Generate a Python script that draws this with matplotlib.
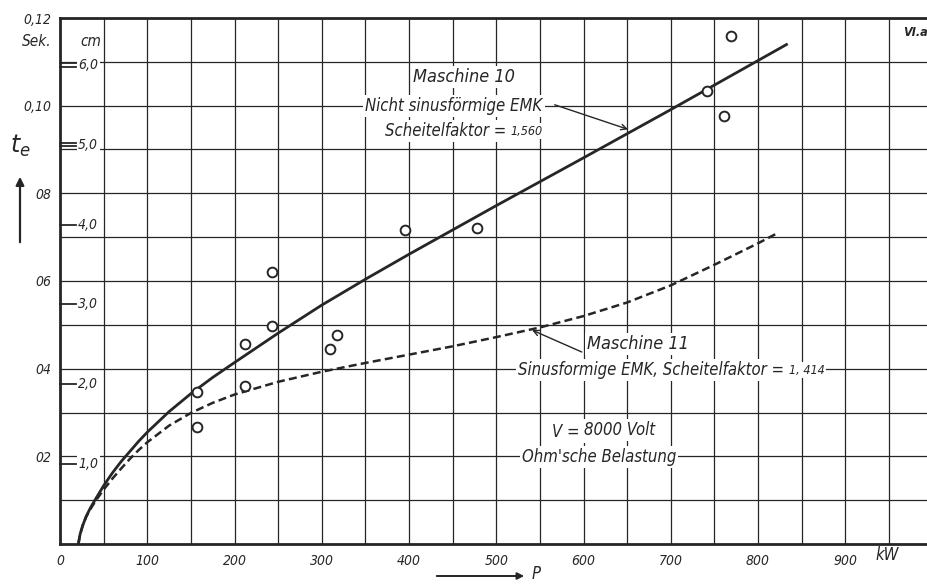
import matplotlib
matplotlib.use("Agg")
import matplotlib.pyplot as plt

# ---------------------
# data
# ---------------------
p_m10 = [21, 23, 26, 30, 35, 40, 50, 60, 70, 80, 90, 100, 125, 150, 175, 200, 250, 300,
         350, 400, 500, 600, 700, 834]
t_m10 = [0.0, 0.0022, 0.0042, 0.0063, 0.0083, 0.0100, 0.0133, 0.0162, 0.0188, 0.0211,
         0.0234, 0.0255, 0.0302, 0.0343, 0.0380, 0.0414, 0.0481, 0.0545, 0.0604, 0.0661,
         0.0772, 0.0881, 0.0991, 0.1141]

p_m11 = [21, 23, 26, 30, 35, 40, 50, 60, 70, 80, 90, 100, 125, 150, 175, 200, 250, 300,
         350, 400, 450, 500, 550, 600, 650, 700, 750, 800, 823]
t_m11 = [0.0, 0.0022, 0.0042, 0.0062, 0.0080, 0.0096, 0.0124, 0.0149, 0.0172, 0.0194,
         0.0214, 0.0232, 0.0270, 0.0299, 0.0322, 0.0341, 0.0370, 0.0393, 0.0413, 0.0432,
         0.0451, 0.0472, 0.0494, 0.0520, 0.0551, 0.0590, 0.0637, 0.0686, 0.0710]

p_meas = [157, 157, 212, 212, 243, 243, 310, 318, 395, 478, 741, 761, 769]
t_meas = [0.0346, 0.0266, 0.0456, 0.0360, 0.0621, 0.0497, 0.0446, 0.0476, 0.0716, 0.0720,
          0.1034, 0.0977, 0.1160]

x_ticks = [0, 100, 200, 300, 400, 500, 600, 700, 800, 900]
y_ticks = [0.02, 0.04, 0.06, 0.08, 0.10, 0.12]
y_labels = ["02", "04", "06", "08", "0,10", "0,12"]
cm_ticks = [1, 2, 3, 4, 5, 6]
cm_labels = ["1,0", "2,0", "3,0", "4,0", "5,0", "6,0"]
sec_per_cm = 0.01822

INK = "#262626"
FONT = dict(family="DejaVu Sans", style="oblique", stretch="condensed", color=INK)
WHITE = dict(boxstyle="square,pad=0.12", fc="white", ec="none")

# ---------------------
# figure
# ---------------------
fig = plt.figure(figsize=(9.28, 5.84), dpi=100)
ax = fig.add_axes([60 / 928, 40 / 584, 868 / 928, 526 / 584])
ax.set_xlim(0, 994.8)
ax.set_ylim(0, 0.12)

ax.set_xticks(x_ticks)
ax.set_xticks([v + 50 for v in x_ticks], minor=True)
ax.set_yticks(y_ticks)
ax.set_yticks([v - 0.01 for v in y_ticks], minor=True)
ax.set_xticklabels([str(v) for v in x_ticks], **FONT, fontsize=10)
ax.set_yticklabels(y_labels, **FONT, fontsize=10)
ax.tick_params(which="both", length=0)
ax.tick_params(axis="x", pad=7)
ax.tick_params(axis="y", pad=6)
ax.grid(True, which="both", color=INK, lw=0.9)
ax.set_axisbelow(True)

for side in ["left", "bottom", "top"]:
    ax.spines[side].set_linewidth(2.0)
    ax.spines[side].set_color(INK)
ax.spines["right"].set_visible(False)

# curves
ax.plot(p_m10, t_m10, color=INK, lw=2.0, solid_capstyle="butt", zorder=3)
ax.plot(p_m11, t_m11, color=INK, lw=1.8, dashes=(3.2, 1.7), zorder=3)
ax.plot(p_meas, t_meas, "o", ms=7, mfc="white", mec=INK, mew=1.4, zorder=4)

# cm scale inside the left axis
ytr = ax.get_yaxis_transform()
for c, lab in zip(cm_ticks, cm_labels):
    y = c * sec_per_cm
    offs = [-0.0004, 0.0004] if c >= 5 else [0.0]
    for o in offs:
        ax.plot([0, 0.019], [y + o, y + o], color=INK, lw=1.3, transform=ytr,
                clip_on=False, zorder=3)
    ax.text(0.021, y, lab, transform=ytr, ha="left", va="center", fontsize=10,
            bbox=WHITE, zorder=3, **FONT)

# annotations
ax.text(463, 0.1065, "Maschine 10", ha="center", va="center", fontsize=13,
        bbox=WHITE, zorder=5, **FONT)
ax.text(553, 0.0999, "Nicht sinusförmige EMK", ha="right", va="center", fontsize=12,
        bbox=WHITE, zorder=5, **FONT)
t1 = ax.text(372, 0.0942, "Scheitelfaktor = ", ha="left", va="center", fontsize=12,
             bbox=WHITE, zorder=5, **FONT)
ax.annotate("1,560", xy=(1, 0.12), xycoords=t1, ha="left", va="bottom", fontsize=9,
            bbox=WHITE, zorder=5, **FONT)
ax.annotate("", xy=(651, 0.0946), xytext=(567, 0.1002),
            arrowprops=dict(arrowstyle="->", lw=1.0, color=INK, shrinkA=0, shrinkB=0),
            zorder=5)

ax.text(604, 0.0456, "Maschine 11", ha="left", va="center", fontsize=13,
        bbox=WHITE, zorder=5, **FONT)
t2 = ax.text(525, 0.0397, "Sinusformige EMK, Scheitelfaktor = ", ha="left", va="center",
             fontsize=12, bbox=WHITE, zorder=5, **FONT)
ax.annotate("1, 414", xy=(1, 0.12), xycoords=t2, ha="left", va="bottom", fontsize=9,
            bbox=WHITE, zorder=5, **FONT)
ax.annotate("", xy=(541, 0.0488), xytext=(598, 0.0438),
            arrowprops=dict(arrowstyle="->", lw=1.0, color=INK, shrinkA=0, shrinkB=0),
            zorder=5)

t3 = ax.text(564, 0.0256, "V = ", ha="left", va="center", fontsize=12,
             bbox=WHITE, zorder=5, **FONT)
ax.annotate("8000 Volt", xy=(1, 0.12), xycoords=t3, ha="left", va="bottom", fontsize=12,
            bbox=WHITE, zorder=5, **FONT)
ax.text(529, 0.0198, "Ohm'sche Belastung", ha="left", va="center", fontsize=12,
        bbox=WHITE, zorder=5, **FONT)

# axis captions
fig.text(37 / 928, 1 - 42 / 584, "Sek.", ha="center", va="center", fontsize=11, **FONT)
fig.text(91 / 928, 1 - 42 / 584, "cm", ha="center", va="center", fontsize=11, **FONT)
fig.text(20 / 928, 1 - 146 / 584, r"$t_e$", ha="center", va="center", fontsize=17,
         color=INK)
fig.add_artist(matplotlib.patches.FancyArrowPatch(
    (20 / 928, 1 - 245 / 584), (20 / 928, 1 - 174 / 584), transform=fig.transFigure,
    arrowstyle="-|>", mutation_scale=12, lw=1.6, color=INK))
fig.text(536 / 928, 1 - 574 / 584, "P", ha="center", va="center", fontsize=12, **FONT)
fig.add_artist(matplotlib.patches.FancyArrowPatch(
    (434 / 928, 1 - 576 / 584), (527 / 928, 1 - 576 / 584), transform=fig.transFigure,
    arrowstyle="-|>", mutation_scale=10, lw=1.4, color=INK))
fig.text(887 / 928, 1 - 555 / 584, "kW", ha="center", va="center", fontsize=12, **FONT)
fig.text(903 / 928, 1 - 32 / 584, "VI.a", ha="left", va="center", fontsize=9,
         weight="bold", **FONT)

fig.savefig("out.png", dpi=100, facecolor="white")
